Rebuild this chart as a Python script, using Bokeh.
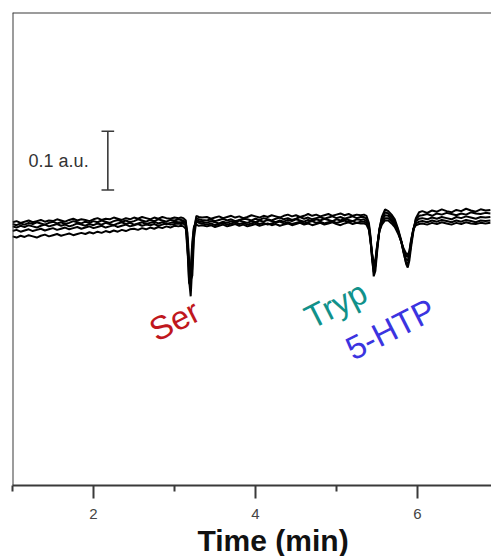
from bokeh.plotting import figure
from bokeh.models import Range1d, FixedTicker, Label, Span, Title
from bokeh.embed import file_html
from bokeh.resources import INLINE

# Time axis (min)
time = [1.00, 1.05, 1.10, 1.15, 1.20, 1.25, 1.30, 1.35, 1.40, 1.45,
        1.50, 1.55, 1.60, 1.65, 1.70, 1.75, 1.80, 1.85, 1.90, 1.95,
        2.00, 2.05, 2.10, 2.15, 2.20, 2.25, 2.30, 2.35, 2.40, 2.45,
        2.50, 2.55, 2.60, 2.65, 2.70, 2.75, 2.80, 2.85, 2.90, 2.95,
        3.00, 3.05,
        3.08, 3.11, 3.14, 3.16, 3.18, 3.20, 3.22, 3.24, 3.27, 3.30, 3.34,
        3.40, 3.45, 3.50, 3.55, 3.60, 3.65, 3.70, 3.75, 3.80, 3.85,
        3.90, 3.95, 4.00, 4.05, 4.10, 4.15, 4.20, 4.25, 4.30, 4.35,
        4.40, 4.45, 4.50, 4.55, 4.60, 4.65, 4.70, 4.75, 4.80, 4.85,
        4.90, 4.95, 5.00, 5.05, 5.10, 5.15, 5.20, 5.25, 5.30,
        5.34, 5.37, 5.40, 5.42, 5.44, 5.46, 5.48, 5.50, 5.53, 5.56,
        5.60, 5.64, 5.68, 5.72, 5.76, 5.80, 5.83, 5.86, 5.88, 5.90,
        5.92, 5.95, 5.98, 6.02,
        6.06, 6.12, 6.18, 6.24, 6.30, 6.36, 6.42, 6.48, 6.54, 6.60,
        6.66, 6.72, 6.78, 6.84, 6.90]

# Absorbance of the repeated runs (10^-3 a.u.)
run_1 = [3, 5, 2, 4, 6, 3, 5, 7, 4, 6, 5, 8, 6, 4, 7, 9, 6, 8, 7, 5,
         8, 10, 7, 9, 8, 11, 9, 7, 10, 8, 11, 9, 12, 10, 8, 11, 9, 12, 10, 9,
         11, 10,
         11, 10, 6, -30, -95, -123, -70, -12, 14, 12, 11,
         12, 9, 11, 13, 10, 12, 14, 11, 13, 10, 12, 15, 13, 11, 14, 12, 15, 13, 11, 14,
         16, 13, 15, 12, 14, 17, 14, 16, 13, 15, 17, 14, 16, 18, 15, 17, 14, 16, 15,
         16, 14, 2, -20, -55, -89, -80, -50, -10, 12, 25, 22, 16, 8, -8, -28, -48, -68,
         -74, -62, -40, -12, 10, 20,
         22, 19, 23, 21, 25, 22, 20, 24, 22, 26, 23, 21, 25, 23, 24]
run_2 = [0, -2, 1, -1, 2, 0, 3, 1, -1, 2, 4, 1, 3, 0, 2, 5, 3, 1, 4, 2,
         5, 3, 6, 4, 2, 5, 7, 4, 6, 3, 5, 8, 6, 4, 7, 5, 8, 6, 4, 7,
         6, 8,
         7, 6, 2, -40, -100, -105, -50, -8, 10, 8, 7,
         6, 8, 5, 7, 9, 6, 8, 5, 7, 9, 8, 6, 9, 7, 10, 8, 6, 9, 11, 8,
         10, 7, 9, 12, 9, 11, 8, 10, 12, 9, 11, 13, 10, 12, 9, 11, 13, 10, 12,
         12, 9, -2, -25, -60, -82, -72, -45, -8, 10, 20, 18, 12, 4, -10, -30, -50, -66,
         -68, -55, -35, -10, 8, 14,
         15, 17, 14, 18, 16, 19, 17, 15, 18, 16, 20, 18, 17, 19, 18]
run_3 = [-4, -6, -3, -5, -2, -4, -6, -3, -1, -4, -2, 0, -3, -1, -4, -2, 1, -1, -3, 0,
         -2, 1, -1, 2, 0, -2, 1, 3, 0, 2, -1, 1, 3, 0, 2, 4, 1, 3, 0, 2,
         4, 3,
         3, 4, 1, -15, -60, -95, -88, -25, 6, 5, 4,
         2, 5, 3, 1, 4, 2, 5, 3, 6, 4, 2, 5, 3, 6, 4, 7, 5, 3, 6, 4,
         7, 5, 8, 6, 4, 7, 5, 8, 6, 9, 7, 5, 8, 6, 9, 7, 5, 8, 7,
         8, 5, -5, -28, -58, -76, -70, -42, -10, 6, 15, 14, 8, 0, -12, -30, -48, -60,
         -62, -52, -32, -8, 5, 9,
         10, 8, 11, 9, 12, 10, 8, 12, 10, 13, 11, 9, 12, 11, 12]
run_4 = [-12, -10, -13, -11, -9, -12, -10, -8, -11, -9, -7, -10, -8, -6, -9, -7, -5, -8, -6, -4,
         -7, -5, -3, -6, -4, -2, -5, -3, -1, -4, -2, 0, -3, -1, -2, 0, -3, -1, 1, -1,
         0, 1,
         0, 1, -3, -25, -70, -85, -45, -5, 4, 2, 1,
         -1, 1, -2, 0, 2, -1, 1, 3, 0, 2, -1, 1, 3, 0, 2, -1, 1, 3, 4, 1,
         3, 0, 2, 4, 1, 3, 5, 2, 4, 1, 3, 5, 2, 4, 6, 3, 5, 2, 4,
         4, 2, -6, -26, -52, -70, -66, -40, -12, 2, 10, 10, 5, -2, -14, -30, -45, -54,
         -56, -48, -30, -8, 1, 4,
         5, 3, 6, 4, 7, 5, 3, 6, 4, 7, 5, 3, 6, 5, 6]
run_5 = [-21, -23, -20, -22, -19, -21, -23, -20, -18, -21, -19, -17, -20, -18, -16, -19, -17, -15, -17, -14,
         -16, -13, -15, -12, -14, -11, -13, -10, -12, -9, -8, -10, -7, -9, -6, -8, -5, -7, -4, -6,
         -3, -4,
         -3, -4, -8, -45, -75, -78, -30, -6, -1, -3, -2,
         -4, -2, -5, -3, -1, -4, -2, 0, -3, -1, -4, -2, 0, -3, -1, 1, -2, 0, -3, -1,
         1, -2, 0, 2, -1, 1, -2, 0, 2, -1, 1, 3, 0, -2, 1, 3, 0, 2, 1,
         1, -1, -10, -30, -50, -65, -62, -38, -12, -1, 6, 6, 1, -5, -16, -30, -42, -50,
         -52, -46, -28, -9, -2, 0,
         1, -1, 2, 0, 3, 1, -1, 2, 0, 3, 1, 0, 2, 1, 2]
runs = [run_1, run_2, run_3, run_4, run_5]

peak_names = ["Ser", "Tryp", "5-HTP"]
peak_colors = ["#c0171d", "#11918a", "#3b34e0"]

major_ticks = [2, 4, 6]
minor_ticks = [1, 3, 5, 7]

scale_bar_value = 100          # 0.1 a.u. in 10^-3 a.u.
scale_bar_text = "0.1 a.u."
x_label = "Time (min)"

X_MIN, X_MAX = 1.0, 6.914
Y_MIN, Y_MAX = -445, 360

p = figure(width=491, height=556, output_backend="svg", toolbar_location=None,
           x_range=Range1d(X_MIN, X_MAX), y_range=Range1d(Y_MIN, Y_MAX),
           min_border_left=12, min_border_right=0, min_border_top=12,
           min_border_bottom=0)
p.background_fill_color = "white"
p.border_fill_color = "white"
p.outline_line_color = None
p.grid.visible = False
p.yaxis.visible = False

for r in runs:
    p.line(time, r, line_color="black", line_width=2)

# frame lines (left and top)
p.add_layout(Span(location=X_MIN, dimension="height", line_color="#3a3a3a", line_width=2))
p.add_layout(Span(location=Y_MAX, dimension="width", line_color="#3a3a3a", line_width=2))

# x axis
xa = p.xaxis[0]
xa.ticker = FixedTicker(ticks=major_ticks, minor_ticks=minor_ticks)
xa.axis_line_color = "#3a3a3a"
xa.axis_line_width = 2
xa.major_tick_line_color = "#3a3a3a"
xa.major_tick_line_width = 2
xa.minor_tick_line_color = "#3a3a3a"
xa.minor_tick_line_width = 2
xa.major_tick_in = 0
xa.major_tick_out = 13
xa.minor_tick_in = 0
xa.minor_tick_out = 6
xa.major_label_standoff = 10
xa.major_label_text_font = "Liberation Sans"
xa.major_label_text_font_size = "15px"
xa.major_label_text_color = "#444444"

# axis title, placed as a title below the axis
p.add_layout(Title(text=x_label, align="left", offset=185, standoff=0,
                   text_font="Liberation Sans", text_font_style="bold",
                   text_font_size="30px", text_color="#111111"), "below")

# scale bar
sb_x, sb_low, sb_cap = 2.177, 58, 0.078
p.segment(x0=[sb_x], y0=[sb_low], x1=[sb_x], y1=[sb_low + scale_bar_value],
          line_color="#3a3a3a", line_width=1.6)
p.segment(x0=[sb_x - sb_cap, sb_x - sb_cap], y0=[sb_low, sb_low + scale_bar_value],
          x1=[sb_x + sb_cap, sb_x + sb_cap], y1=[sb_low, sb_low + scale_bar_value],
          line_color="#3a3a3a", line_width=1.6)
p.add_layout(Label(x=1.94, y=sb_low + scale_bar_value / 2, text=scale_bar_text,
                   text_align="right", text_baseline="middle",
                   text_font="Liberation Sans", text_font_size="18px",
                   text_color="#333333"))

# peak labels
label_pos = [(3.00, -164), (4.99, -137), (5.667, -179)]
for name, col, (lx, ly) in zip(peak_names, peak_colors, label_pos):
    p.add_layout(Label(x=lx, y=ly, text=name, angle=0.47,
                       text_align="center", text_baseline="middle",
                       text_font="Liberation Sans", text_font_size="33px",
                       text_color=col))

open("out.html", "w").write(file_html(p, INLINE))
